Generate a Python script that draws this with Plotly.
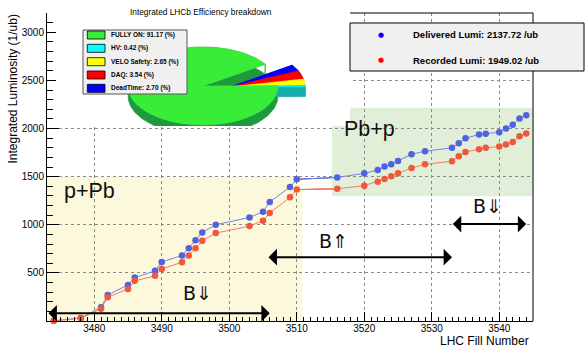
import numpy as np
import plotly.graph_objects as go

# ---------------- data ----------------
fill_numbers = [3474, 3478, 3481, 3482, 3485, 3486, 3489, 3490, 3493, 3494, 3495, 3496,
                3498, 3503, 3505, 3506, 3509, 3510, 3516, 3520, 3522, 3523, 3524, 3525,
                3527, 3529, 3533, 3534, 3535, 3537, 3538, 3540, 3541, 3542, 3543, 3544]
delivered_lumi = [3, 30, 142, 271, 375, 451, 521, 614, 680, 755, 840, 920,
                  1000, 1076, 1135, 1236, 1393, 1472, 1492, 1534, 1569, 1604, 1628, 1663,
                  1733, 1764, 1799, 1847, 1899, 1937, 1945, 1962, 2000, 2038, 2104, 2138]
recorded_lumi = [2, 28, 128, 247, 333, 417, 469, 541, 611, 680, 757, 833,
                 913, 986, 1042, 1122, 1285, 1365, 1374, 1406, 1448, 1476, 1503, 1534,
                 1590, 1628, 1660, 1712, 1757, 1784, 1799, 1812, 1833, 1861, 1920, 1949]

pie_labels = ["FULLY ON", "HV", "VELO Safety", "DAQ", "DeadTime"]
pie_values = [91.17, 0.42, 2.65, 3.54, 2.70]
pie_colors = ["#38ed38", "#00ffff", "#ffff00", "#ff0000", "#0000ff"]
pie_side_colors = ["#1c9a3c", "#17adad", "#b3b300", "#b30000", "#0000b3"]

x_ticks = [3480, 3490, 3500, 3510, 3520, 3530, 3540]
y_ticks = [500, 1000, 1500, 2000, 2500, 3000]

# period / magnet annotations (data coordinates)
period_labels = [("p+Pb", 3479.3, 1355), ("Pb+p", 3520.8, 1990)]
magnet_labels = [("B\u21d3", 3495.3, 292), ("B\u21d1", 3515.4, 833), ("B\u21d3", 3538.3, 1190)]
magnet_arrows = [(3473.0, 3506.0, 80), (3505.6, 3533.0, 663), (3532.9, 3544.0, 1007)]
pPb_region = (3473.0, 3510.8, 0, 1500)
Pbp_region = (3515.2, 3545.0, 1295, 2215)

# ---------------- layout helpers ----------------
W, H = 585, 347
ML, MR, MT, MB = 47, 52, 13, 26
PW, PH = W - ML - MR, H - MT - MB
FONT = "Liberation Sans, Arial, Helvetica, sans-serif"


def px(x):
    return (x - ML) / PW


def py(y):
    return (H - MB - y) / PH


fig = go.Figure()

# darker connecting segment across the gap
gap = slice(17, 19)
fig.add_trace(go.Scatter(x=fill_numbers[gap], y=delivered_lumi[gap], mode="lines",
                         line=dict(color="#2433d8", width=1), showlegend=False, hoverinfo="skip"))
fig.add_trace(go.Scatter(x=fill_numbers[gap], y=recorded_lumi[gap], mode="lines",
                         line=dict(color="#f01818", width=1), showlegend=False, hoverinfo="skip"))

fig.add_trace(go.Scatter(x=fill_numbers, y=delivered_lumi, mode="lines+markers",
                         line=dict(color="#7381e8", width=1),
                         marker=dict(color="#5062e0", size=6.5, line=dict(width=0)),
                         showlegend=False, cliponaxis=False, name="Delivered"))
fig.add_trace(go.Scatter(x=fill_numbers, y=recorded_lumi, mode="lines+markers",
                         line=dict(color="#f27c68", width=1),
                         marker=dict(color="#f0583a", size=6.5, line=dict(width=0)),
                         showlegend=False, cliponaxis=False, name="Recorded"))

# ---------------- 3D pie inset (x2/y2 in pixel units, y down) ----------------
PAD_X0, PAD_X1, PAD_Y0, PAD_Y1 = 56, 350, 13, 126
CX, CY, RX, RY, TH = 203, 86, 75, 39, 10
SMALL_OFFSET = (27, 1)
START = 34.0

tot = sum(pie_values)
spans = [v / tot * 360.0 for v in pie_values]
bounds = []
a = START
for s in spans:
    bounds.append((a, a + s))
    a += s


def slice_geom(cx, cy, a1, a2):
    n = max(4, int(abs(a2 - a1) / 2) + 2)
    t = np.radians(np.linspace(a1, a2, n))
    ax_ = cx + RX * np.cos(t)
    ay_ = cy - RY * np.sin(t)
    top_x = [cx] + list(ax_) + [cx]
    top_y = [cy] + list(ay_) + [cy]
    wx = list(ax_) + list(ax_[::-1]) + [ax_[0]]
    wy = list(ay_) + list(ay_[::-1] + TH) + [ay_[0]]
    for k in (0, -1):
        wx += [None, cx, ax_[k], ax_[k], cx, cx]
        wy += [None, cy, ay_[k], ay_[k] + TH, cy + TH, cy]
    return top_x, top_y, wx, wy


def add_poly(xs, ys, color):
    fig.add_trace(go.Scatter(x=xs, y=ys, xaxis="x2", yaxis="y2", mode="lines",
                             fill="toself", fillcolor=color,
                             line=dict(color=color, width=0.6),
                             showlegend=False, hoverinfo="skip"))


geoms = []
for i, (a1, a2) in enumerate(bounds):
    if i == 0:
        geoms.append(slice_geom(CX, CY, a1, a2))
    else:
        geoms.append(slice_geom(CX + SMALL_OFFSET[0], CY + SMALL_OFFSET[1], a1, a2))

# green walls, then small slices back-to-front, then green top
add_poly(geoms[0][2], geoms[0][3], pie_side_colors[0])
for i in [4, 3, 2, 1]:
    add_poly(geoms[i][2], geoms[i][3], pie_side_colors[i])
    add_poly(geoms[i][0], geoms[i][1], pie_colors[i])
add_poly(geoms[0][0], geoms[0][1], pie_colors[0])

# ---------------- shapes ----------------
shapes = [
    dict(type="rect", xref="x", yref="y", x0=pPb_region[0], x1=pPb_region[1],
         y0=pPb_region[2], y1=pPb_region[3], fillcolor="#fcf8dc", line=dict(width=0), layer="below"),
    dict(type="rect", xref="x", yref="y", x0=Pbp_region[0], x1=Pbp_region[1],
         y0=Pbp_region[2], y1=Pbp_region[3], fillcolor="#e2efd8", line=dict(width=0), layer="below"),
    dict(type="rect", xref="x2", yref="y2", x0=PAD_X0, x1=PAD_X1, y0=PAD_Y0, y1=PAD_Y1,
         fillcolor="white", line=dict(width=0), layer="below"),
    dict(type="line", xref="paper", yref="paper", x0=1, x1=1, y0=0, y1=1,
         line=dict(color="black", width=1), layer="above"),
    dict(type="line", xref="paper", yref="paper", x0=px(350), x1=1, y0=1, y1=1,
         line=dict(color="black", width=1), layer="above"),
    # main legend box
    dict(type="rect", xref="paper", yref="paper", x0=px(350), x1=px(584), y0=py(71), y1=py(23),
         fillcolor="#f0f0f0", line=dict(color="black", width=1), layer="above"),
    # pie legend box
    dict(type="rect", xref="paper", yref="paper", x0=px(83), x1=px(187), y0=py(94), y1=py(30),
         fillcolor="#f0f0f0", line=dict(color="#555555", width=1), layer="above"),
]

annotations = []
row_y = [35, 48.3, 61.7, 75, 88.3]
for i, lab in enumerate(pie_labels):
    shapes.append(dict(type="rect", xref="paper", yref="paper", x0=px(87.3), x1=px(105),
                       y0=py(row_y[i] + 4), y1=py(row_y[i] - 4), fillcolor=pie_colors[i],
                       line=dict(color="black", width=0.8), layer="above"))
    annotations.append(dict(x=px(109), y=py(row_y[i]), xref="paper", yref="paper",
                            xanchor="left", yanchor="middle", showarrow=False,
                            text="<b>%s: %.2f (%%)</b>" % (lab, pie_values[i]),
                            font=dict(family=FONT, size=6.5, color="black")))

annotations.append(dict(x=px(201), y=py(12.3), xref="paper", yref="paper", xanchor="center",
                        yanchor="middle", showarrow=False,
                        text="Integrated LHCb Efficiency breakdown",
                        font=dict(family=FONT, size=8.3, color="black")))

# main legend
leg_entries = [("Delivered Lumi: %.2f /ub" % 2137.72, "#0000ff", 34.7),
               ("Recorded Lumi: %.2f /ub" % 1949.02, "#ff0000", 60)]
for txt, col, yy in leg_entries:
    annotations.append(dict(x=px(380.7), y=py(yy), xref="paper", yref="paper", xanchor="center",
                            yanchor="middle", showarrow=False, text="\u25cf",
                            font=dict(family="DejaVu Sans", size=7, color=col)))
    annotations.append(dict(x=px(411), y=py(yy), xref="paper", yref="paper", xanchor="left",
                            yanchor="middle", showarrow=False, text="<b>%s</b>" % txt,
                            font=dict(family=FONT, size=9.5, color="black")))

# axis titles
annotations.append(dict(x=px(531), y=py(341.3), xref="paper", yref="paper", xanchor="right",
                        yanchor="middle", showarrow=False, text="LHC Fill Number",
                        font=dict(family=FONT, size=12, color="black")))
annotations.append(dict(x=px(12), y=1.0, xref="paper", yref="paper", xanchor="center",
                        yanchor="top", showarrow=False, text="Integrated Luminosity (1/ub)",
                        textangle=-90, font=dict(family=FONT, size=12, color="black")))

for txt, xx, yy in period_labels:
    annotations.append(dict(x=xx, y=yy, xref="x", yref="y", showarrow=False, text=txt,
                            xanchor="center", yanchor="middle",
                            font=dict(family=FONT, size=21.5, color="#111111")))
for txt, xx, yy in magnet_labels:
    annotations.append(dict(x=xx, y=yy, xref="x", yref="y", showarrow=False, text=txt,
                            xanchor="center", yanchor="middle",
                            font=dict(family="DejaVu Sans, " + FONT, size=19, color="#111111")))
for x0, x1, yy in magnet_arrows:
    annotations.append(dict(x=x1, y=yy, ax=x0, ay=yy, xref="x", yref="y", axref="x", ayref="y",
                            text="", showarrow=True, arrowside="end+start", arrowhead=1,
                            arrowsize=1.4, arrowwidth=2, arrowcolor="black", standoff=0,
                            startstandoff=0))

fig.update_layout(
    width=W, height=H, margin=dict(l=ML, r=MR, t=MT, b=MB),
    paper_bgcolor="white", plot_bgcolor="white",
    shapes=shapes, annotations=annotations, showlegend=False,
    font=dict(family=FONT, size=10, color="black"),
    xaxis=dict(range=[3473.0, 3545.0], domain=[0, 1], tickmode="array", tickvals=x_ticks,
               ticktext=[str(v) for v in x_ticks], ticks="inside", ticklen=9, tickcolor="black",
               showline=True, linecolor="black", linewidth=1, mirror=False,
               showgrid=True, gridcolor="#8a8a8a", griddash="dot", gridwidth=1,
               zeroline=False, tickfont=dict(family=FONT, size=10, color="black"),
               ticklabelstandoff=-2,
               minor=dict(tickmode="linear", tick0=3473, dtick=1, ticks="inside", ticklen=4.5,
                          tickcolor="black", showgrid=False)),
    yaxis=dict(range=[0, 3200], domain=[0, 1], tickmode="array", tickvals=y_ticks,
               ticktext=[str(v) for v in y_ticks], ticks="inside", ticklen=12, tickcolor="black",
               showline=True, linecolor="black", linewidth=1, mirror=False,
               showgrid=True, gridcolor="#8a8a8a", griddash="dot", gridwidth=1,
               zeroline=False, tickfont=dict(family=FONT, size=10, color="black"),
               minor=dict(tickmode="linear", tick0=0, dtick=100, ticks="inside", ticklen=6,
                          tickcolor="black", showgrid=False)),
    xaxis2=dict(domain=[px(PAD_X0), px(PAD_X1)], range=[PAD_X0, PAD_X1], visible=False,
                anchor="y2", fixedrange=True),
    yaxis2=dict(domain=[py(PAD_Y1), py(PAD_Y0)], range=[PAD_Y1, PAD_Y0], visible=False,
                anchor="x2", fixedrange=True),
)

fig.write_html("out.html", config={"displayModeBar": False},
               post_script="document.body.style.margin='0';document.body.style.overflow='hidden';")
